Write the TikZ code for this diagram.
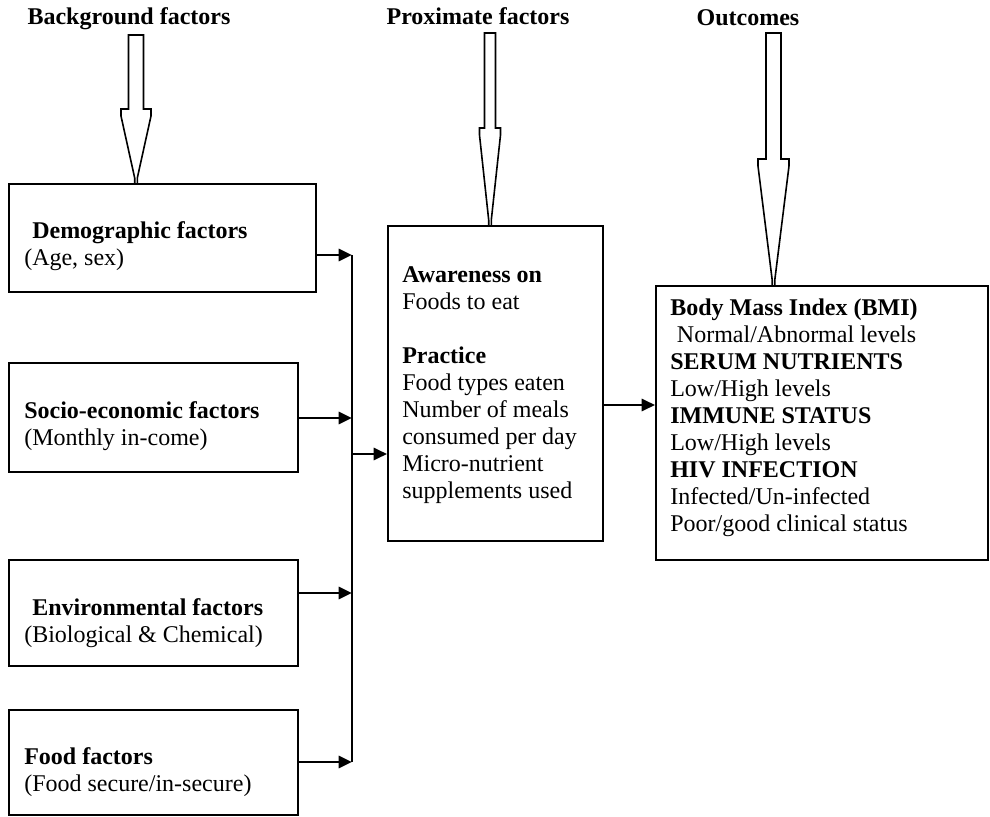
\documentclass[tikz,border=0pt]{standalone}
\usepackage{fontspec}
\setmainfont{Liberation Serif}
\usetikzlibrary{arrows.meta, positioning, calc}

% hollow block arrow: x, top, shoulder, tip, half shaft, half head
\newcommand{\hollowarrow}[6]{%
  \draw[line width=1.2pt, fill=white] (#1-#5,#2) -- (#1+#5,#2) -- (#1+#5,#3) -- (#1+#6,#3)
    -- (#1+#6,#3+7) -- (#1+1.3,#4-6) -- (#1+1.3,#4) -- (#1-1.3,#4) -- (#1-1.3,#4-6)
    -- (#1-#6,#3+7) -- (#1-#6,#3) -- (#1-#5,#3) -- cycle;}

\begin{document}
\begin{tikzpicture}[
            x=0.75pt, y=-0.75pt,
            txt/.style={font=\fontsize{18pt}{20.25pt}\selectfont, align=left, inner sep=0pt},
            hdr/.style={font=\fontsize{18pt}{20.25pt}\selectfont\bfseries, inner sep=0pt},
            box/.style={draw, line width=1.4pt, inner sep=0pt},
            conn/.style={line width=1.4pt},
            arr/.style={-{Triangle[length=10pt, width=9pt]}, line width=2.2pt},
        ]
        \useasboundingbox (0,0) rectangle (990,817);
        % column headings
        \node[hdr, anchor=base] (bghead) at (129,25) {Background factors};
        \node[hdr, anchor=base] (pxhead) at (478,25) {Proximate factors};
        \node[hdr, anchor=base] (ochead) at (748,26) {Outcomes};
        % boxes
        \node[box, minimum width=230.25pt, minimum height=81pt] (demo) at (162.5,238) {};
        \node[box, minimum width=216.75pt, minimum height=81.75pt] (socio) at (153.5,417.5) {};
        \node[box, minimum width=216.75pt, minimum height=79.5pt] (envir) at (153.5,613) {};
        \node[box, minimum width=216.75pt, minimum height=78.75pt] (food) at (153.5,762.5) {};
        \node[box, minimum width=161.25pt, minimum height=236.25pt] (aware) at (495.5,383.5) {};
        \node[box, minimum width=249pt, minimum height=205.5pt] (outc) at (822,423) {};
        % box texts
        \node[txt, anchor=west] (demotxt) at (24,246.5) {\hspace*{6pt}\textbf{Demographic factors}\\(Age, sex)};
        \node[txt, anchor=west] (sociotxt) at (24,426.5) {\textbf{Socio-economic factors}\\(Monthly in-come)};
        \node[txt, anchor=west] (envirtxt) at (24,623.5) {\hspace*{6pt}\textbf{Environmental factors}\\(Biological \& Chemical)};
        \node[txt, anchor=west] (foodtxt) at (24,772.5) {\textbf{Food factors}\\(Food secure/in-secure)};
        \node[txt, anchor=west] (awaretxt) at (402,385) {\textbf{Awareness on}\\Foods to eat\\[20.25pt]\textbf{Practice}\\Food types eaten\\Number of meals\\consumed per day\\Micro-nutrient\\supplements used};
        \node[txt, anchor=west] (outctxt) at (670,418) {\textbf{Body Mass Index (BMI)}\\\hspace*{5pt}Normal/Abnormal levels\\\textbf{SERUM NUTRIENTS}\\Low/High levels\\\textbf{IMMUNE STATUS}\\Low/High levels\\\textbf{HIV INFECTION}\\Infected/Un-infected\\Poor/good clinical status};
        % hollow arrows from the headings
        \hollowarrow{136}{35}{109}{184}{7.5}{15}
        \hollowarrow{490}{33}{128}{226}{5.5}{10.5}
        \hollowarrow{773.5}{33}{159}{286}{7.5}{15.5}
        % collecting line
        \coordinate (bus1) at (352,255);
        \coordinate (bus2) at (352,418);
        \coordinate (bus3) at (352,593);
        \coordinate (bus4) at (352,762);
        \coordinate (busout) at (352,454);
        \coordinate (midlink) at (630,405);
        \draw[conn] (bus1) -- (bus4);
        \draw[arr] (demo.east |- bus1) -- (bus1);
        \draw[arr] (socio.east |- bus2) -- (bus2);
        \draw[arr] (envir.east |- bus3) -- (bus3);
        \draw[arr] (food.east |- bus4) -- (bus4);
        \draw[arr] (busout) -- (aware.west |- busout);
        \draw[arr] (aware.east |- midlink) -- (outc.west |- midlink);
    \end{tikzpicture}
\end{document}
